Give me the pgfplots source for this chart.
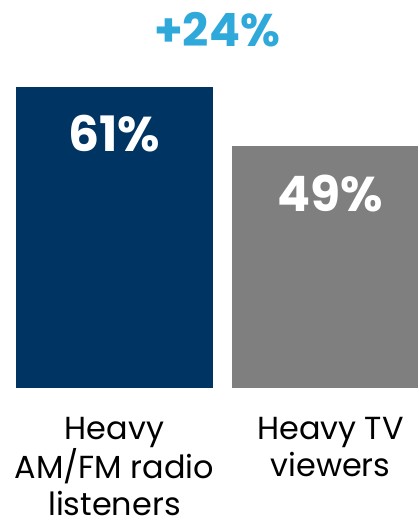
\documentclass[border=0pt]{standalone}
\usepackage{pgfplots}
\pgfplotsset{compat=1.18}
\usepackage{fontspec}
\setmainfont{Poppins}
\definecolor{navy}{HTML}{003462}
\definecolor{gry}{HTML}{7F7F7F}
\definecolor{lblue}{HTML}{2FA8DA}
\begin{document}
\begin{tikzpicture}
\useasboundingbox (0,-132bp) rectangle (418bp,388bp);
\begin{axis}[at={(0,0)}, anchor=south west, scale only axis, width=418bp, height=388bp,
  xmin=-0.5301, xmax=1.4051, ymin=0, ymax=78.7,
  axis line style={draw=none}, tick style={draw=none}, major tick length=0pt,
  ytick=\empty, xtick={0,1},
  xticklabels={{Heavy\\AM/FM radio\\listeners},{Heavy TV\\viewers}},
  xticklabel style={align=center, font=\fontsize{32}{37}\selectfont, anchor=north, inner sep=0pt, yshift=-29bp, text=black},
  ybar, bar width=197bp, bar shift=0pt,
  point meta=explicit symbolic, nodes near coords,
  every node near coord/.append style={anchor=north, inner sep=0pt, yshift=-28bp, font=\fontsize{49}{49}\bfseries\selectfont, text=white},
  clip=false]
\addplot[fill=navy, draw=none] coordinates {(0,61) [61\%]};
\addplot[fill=gry, draw=none] coordinates {(1,49) [49\%]};
\node[anchor=base, text=lblue, font=\fontsize{46}{46}\bfseries\selectfont, inner sep=0pt] at (axis cs:0.4745,69.2) {+24\%};
\end{axis}
\end{tikzpicture}
\end{document}
